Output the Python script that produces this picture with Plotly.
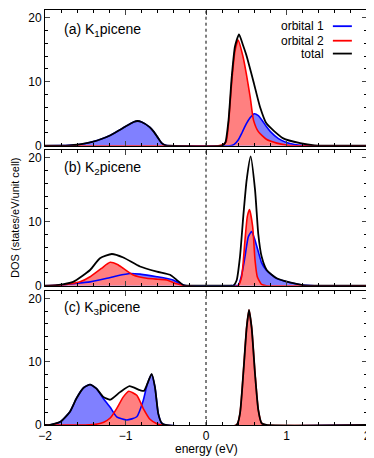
import plotly.graph_objects as go
from plotly.subplots import make_subplots

# ---- data (energy in eV, DOS in states/eV/unit cell) ----

# (a) K1picene
a_e_orb1 = [-2.0, -1.8, -1.7, -1.6, -1.5, -1.4, -1.3, -1.2, -1.1, -1.0, -0.9, -0.85, -0.8, -0.7, -0.65,
            -0.6, -0.55, -0.5, -0.45, 0.3, 0.35, 0.4, 0.45, 0.5, 0.55, 0.6, 0.65, 0.7, 0.75, 0.8, 0.9,
            1.0, 1.1, 1.2, 1.3, 2.0]
a_orb1 = [0, 0.02, 0.06, 0.15, 0.35, 0.65, 1.05, 1.55, 2.25, 3.0, 3.7, 3.86, 3.7, 2.9, 2.2,
          1.3, 0.4, 0.05, 0, 0, 0.2, 0.9, 2.1, 3.4, 4.4, 5.0, 4.7, 3.9, 3.0, 2.2, 1.1,
          0.5, 0.2, 0.05, 0, 0]
a_e_orb2 = [-2.0, 0.15, 0.2, 0.25, 0.28, 0.32, 0.36, 0.4, 0.46, 0.5, 0.55, 0.59, 0.65, 0.75, 0.88,
            1.0, 1.1, 2.0]
a_orb2 = [0, 0, 0.1, 0.6, 3.5, 10.0, 14.8, 16.5, 13.9, 11.3, 7.5, 4.0, 2.2, 1.0, 0.4,
          0.1, 0, 0]
a_e_tot = [-2.0, -1.8, -1.7, -1.6, -1.5, -1.4, -1.3, -1.2, -1.1, -1.0, -0.9, -0.85, -0.8, -0.7, -0.65,
           -0.6, -0.55, -0.5, -0.45, 0.2, 0.24, 0.28, 0.32, 0.36, 0.41, 0.46, 0.5, 0.59, 0.67, 0.75,
           0.96, 1.17, 1.35, 1.5, 2.0]
a_tot = [0, 0.02, 0.06, 0.15, 0.35, 0.65, 1.05, 1.55, 2.25, 3.0, 3.7, 3.86, 3.7, 2.9, 2.2,
         1.3, 0.4, 0.05, 0, 0, 0.5, 4.0, 10.8, 15.5, 17.4, 15.7, 14.2, 10.0, 6.1, 3.5,
         1.15, 0.4, 0.05, 0, 0]

# (b) K2picene
b_e_orb1 = [-2.0, -1.85, -1.65, -1.44, -1.23, -1.1, -0.94, -0.82, -0.61, -0.41, -0.32, -0.25, 0.3,
            0.4, 0.443, 0.484, 0.526, 0.567, 0.609, 0.65, 0.69, 0.75, 0.88, 1.04, 1.2, 1.35, 2.0]
b_orb1 = [0, 0.05, 0.3, 0.6, 1.15, 1.55, 1.9, 1.8, 1.4, 0.9, 0.3, 0, 0,
          0.1, 1.7, 4.5, 7.65, 8.45, 7.1, 5.3, 3.6, 2.4, 1.1, 0.5, 0.1, 0, 0]
b_e_orb2 = [-2.0, -1.85, -1.7, -1.565, -1.44, -1.3, -1.19, -1.1, -1.027, -0.903, -0.737, -0.6, -0.488,
            -0.364, -0.28, 0.4, 0.443, 0.484, 0.513, 0.54, 0.58, 0.609, 0.637, 0.69, 0.75, 2.0]
b_orb2 = [0, 0.05, 0.25, 0.6, 1.4, 2.7, 3.65, 3.3, 2.7, 1.67, 1.15, 1.0, 0.9,
          0.3, 0, 0, 1.4, 7.1, 10.8, 11.9, 9.2, 4.0, 1.4, 0.2, 0, 0]
b_e_tot = [-2.0, -1.85, -1.65, -1.44, -1.317, -1.17, -1.027, -0.82, -0.61, -0.447, -0.364, -0.28, -0.2,
           0.3, 0.34, 0.38, 0.422, 0.463, 0.505, 0.555, 0.609, 0.65, 0.69, 0.754, 0.878, 1.04, 1.2,
           1.35, 2.0]
b_tot = [0, 0.1, 0.6, 2.45, 4.3, 4.95, 4.4, 3.0, 2.2, 1.7, 0.9, 0.1, 0,
         0, 0, 0.8, 4.5, 10.8, 16.5, 20.2, 15.0, 8.0, 4.6, 2.45, 1.15, 0.5, 0.1,
         0, 0]

# (c) K3picene
c_e_orb1 = [-2.0, -1.94, -1.81, -1.69, -1.61, -1.52, -1.44, -1.36, -1.276, -1.19, -1.11, -0.985, -0.86,
            -0.779, -0.729, -0.675, -0.634, -0.593, -0.55, -0.5, 2.0]
c_orb1 = [0, 0, 0.5, 2.1, 4.2, 5.9, 6.4, 5.75, 4.2, 2.8, 1.3, 0.8, 1.3,
          3.9, 6.5, 8.0, 6.0, 1.8, 0.3, 0, 0]
c_e_orb2 = [-2.0, -1.5, -1.35, -1.27, -1.19, -1.11, -1.027, -0.96, -0.86, -0.779, -0.696, -0.61, -0.55,
            0.38, 0.422, 0.463, 0.505, 0.534, 0.567, 0.609, 0.65, 0.69, 0.75, 2.0]
c_orb2 = [0, 0, 0.15, 0.45, 1.1, 2.6, 4.45, 5.35, 4.7, 2.6, 0.9, 0.2, 0,
          0, 1.8, 8.1, 15.4, 18.2, 15.4, 8.1, 2.35, 0.3, 0, 0]
c_e_tot = [-2.0, -1.94, -1.81, -1.69, -1.61, -1.52, -1.44, -1.36, -1.276, -1.19, -1.068, -0.95, -0.82,
           -0.77, -0.72, -0.675, -0.634, -0.593, -0.55, -0.5, 0.38, 0.422, 0.463, 0.505, 0.534,
           0.567, 0.609, 0.65, 0.69, 0.75, 2.0]
c_tot = [0, 0, 0.5, 2.1, 4.2, 5.9, 6.4, 5.75, 4.45, 4.0, 5.2, 6.15, 5.5,
         5.4, 6.8, 8.1, 6.0, 1.8, 0.3, 0, 0, 1.8, 8.1, 15.4, 18.2,
         15.4, 8.1, 2.35, 0.3, 0, 0]

panel_labels = ["(a) K<sub>1</sub>picene", "(b) K<sub>2</sub>picene", "(c) K<sub>3</sub>picene"]
legend_names = ["orbital 1", "orbital 2", "total"]
x_ticks = [-2, -1, 0, 1, 2]
y_ticks = [0, 10, 20]

panels = [
    (a_e_orb1, a_orb1, a_e_orb2, a_orb2, a_e_tot, a_tot),
    (b_e_orb1, b_orb1, b_e_orb2, b_orb2, b_e_tot, b_tot),
    (c_e_orb1, c_orb1, c_e_orb2, c_orb2, c_e_tot, c_tot),
]

BLUE, RED, BLACK = "#0000ff", "#ff0000", "#000000"
BLUE_FILL, RED_FILL = "#8080ff", "#ff8080"
FONT = "Liberation Sans, Arial, Helvetica, sans-serif"
SMOOTH = 0.55

fig = make_subplots(rows=3, cols=1)

for i, (e1, d1, e2, d2, et, dt) in enumerate(panels, start=1):
    # fills first, so every line sits on top of both filled areas
    fig.add_trace(go.Scatter(x=e1, y=d1, mode="none", fill="tozeroy", fillcolor=BLUE_FILL,
                             line=dict(shape="spline", smoothing=SMOOTH), showlegend=False),
                  row=i, col=1)
    fig.add_trace(go.Scatter(x=e2, y=d2, mode="none", fill="tozeroy", fillcolor=RED_FILL,
                             line=dict(shape="spline", smoothing=SMOOTH), showlegend=False),
                  row=i, col=1)
    for e, d, c, w in [(e1, d1, BLUE, 1.6), (e2, d2, RED, 1.6), (et, dt, BLACK, 1.8)]:
        fig.add_trace(go.Scatter(x=e, y=d, mode="lines",
                                 line=dict(color=c, width=w, shape="spline", smoothing=SMOOTH),
                                 showlegend=False),
                      row=i, col=1)
    fig.add_vline(x=0, line=dict(color="black", width=1, dash="dot"), row=i, col=1)

# panel domains (paper fraction, bottom = 0)
domains = [[0.673, 1.0], [0.3357, 0.6627], [0.0, 0.3229]]
for i in range(1, 4):
    fig.update_yaxes(row=i, col=1, domain=domains[i - 1], range=[0, 21.2], automargin=False,
                     tickvals=y_ticks, ticks="inside", ticklen=5, showline=True, mirror="ticks",
                     linecolor="black", linewidth=1, showgrid=False, zeroline=False,
                     minor=dict(dtick=2, ticks="inside", ticklen=3, tickcolor="black"),
                     tickfont=dict(size=12, color="black", family=FONT))
    fig.update_xaxes(row=i, col=1, range=[-2, 2], automargin=False, ticklabeloverflow="allow",
                     tickvals=x_ticks, ticks="inside", ticklen=5,
                     showline=True, mirror="ticks", linecolor="black", linewidth=1,
                     showgrid=False, zeroline=False, showticklabels=(i == 3),
                     minor=dict(dtick=0.2, ticks="inside", ticklen=3, tickcolor="black"),
                     tickfont=dict(size=12, color="black", family=FONT))

# panel labels
label_y = [0.952, 0.6185, 0.281]
for lab, yy in zip(panel_labels, label_y):
    fig.add_annotation(text=lab, x=0.052, y=yy, xref="paper", yref="paper",
                       xanchor="left", yanchor="middle", showarrow=False,
                       font=dict(size=14, color="black", family=FONT))

# key in panel (a), gnuplot style: text right-aligned, sample line to its right
key_y = [0.961, 0.926, 0.895]
for name, c, yy in zip(legend_names, [BLUE, RED, BLACK], key_y):
    fig.add_annotation(text=name, x=0.873, y=yy, xref="paper", yref="paper",
                       xanchor="right", yanchor="middle", showarrow=False,
                       font=dict(size=12, color="black", family=FONT))
    fig.add_shape(type="line", x0=0.894, x1=0.953, y0=yy, y1=yy, xref="paper", yref="paper",
                  line=dict(color=c, width=1.8))

fig.add_annotation(text="DOS (states/eV/unit cell)", x=-0.095, y=0.5, xref="paper", yref="paper",
                   textangle=-90, showarrow=False, xanchor="center", yanchor="middle",
                   font=dict(size=11, color="black", family=FONT))
fig.add_annotation(text="energy (eV)", x=0.5, y=-0.058, xref="paper", yref="paper",
                   showarrow=False, xanchor="center", yanchor="middle",
                   font=dict(size=12, color="black", family=FONT))

# the page body has an 8px margin, so the figure is made 8px smaller and
# its left/top margins shrunk by 8px to land the plot area where it belongs
fig.update_layout(width=366, height=450, margin=dict(l=37, r=7, t=2, b=33, autoexpand=False),
                  plot_bgcolor="white", paper_bgcolor="white", showlegend=False)

fig.write_html("out.html")
